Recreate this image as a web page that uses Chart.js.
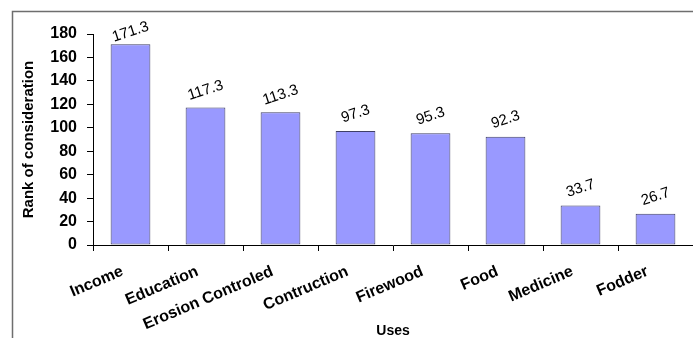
<!DOCTYPE html>
<html>
<head>
<meta charset="utf-8">
<script src="https://cdn.jsdelivr.net/npm/chart.js@4.4.1/dist/chart.umd.min.js"></script>
<style>
  body { margin: 0; background: #fff; }
  canvas { display: block; }
</style>
</head>
<body>
<canvas id="barChart" width="693" height="338"></canvas>
<script>
// data
var uses = ['Income', 'Education', 'Erosion Controled', 'Contruction', 'Firewood', 'Food', 'Medicine', 'Fodder'];
var rankValues = [171.3, 117.3, 113.3, 97.3, 95.3, 92.3, 33.7, 26.7];
var yMin = 0, yMax = 180, yStep = 20;

// outer frame + white bg
var framePlugin = {
    id: 'frame',
    beforeDraw: function (chart) {
        var ctx = chart.ctx;
        ctx.save();
        ctx.fillStyle = '#fff';
        ctx.fillRect(0, 0, chart.width, chart.height);
        ctx.strokeStyle = '#6e6e6e';
        ctx.lineWidth = 1.5;
        ctx.strokeRect(12.5, 11.5, 900, 500);
        ctx.restore();
    }
};

// rotated value labels above bars
var valueLabels = {
    id: 'valueLabels',
    afterDatasetsDraw: function (chart) {
        var ctx = chart.ctx;
        var meta = chart.getDatasetMeta(0);
        ctx.save();
        ctx.font = '15px "Liberation Sans", Arial, sans-serif';
        ctx.fillStyle = '#000';
        ctx.textAlign = 'center';
        ctx.textBaseline = 'middle';
        meta.data.forEach(function (bar, i) {
            var y = Math.max(bar.y - 17, 32);
            ctx.save();
            ctx.translate(bar.x, y);
            ctx.rotate(-18 * Math.PI / 180);
            ctx.fillText(rankValues[i].toFixed(1), 0, 0);
            ctx.restore();
        });
        ctx.restore();
    }
};

var ctx = document.getElementById('barChart').getContext('2d');
var chart = new Chart(ctx, {
    type: 'bar',
    data: {
        labels: uses,
        datasets: [{
            data: rankValues,
            backgroundColor: '#9999ff',
            borderColor: '#3f3f66',
            borderWidth: 1,
            borderSkipped: false,
            barPercentage: 0.53,
            categoryPercentage: 1
        }]
    },
    options: {
        responsive: false,
        animation: false,
        layout: { padding: { top: 34, right: 0, bottom: 0, left: 0 } },
        plugins: {
            legend: { display: false },
            tooltip: { enabled: false }
        },
        scales: {
            x: {
                grid: { drawOnChartArea: false, drawTicks: true, tickLength: 6, color: '#000' },
                border: { color: '#000', width: 1 },
                ticks: {
                    color: '#000',
                    minRotation: 23,
                    maxRotation: 23,
                    padding: 11,
                    labelOffset: -8,
                    font: { family: '"Liberation Sans", Arial, sans-serif', size: 16, weight: 'bold' }
                },
                title: {
                    display: true,
                    text: 'Uses',
                    color: '#000',
                    padding: 0,
                    font: { family: '"Liberation Sans", Arial, sans-serif', size: 14, weight: 'bold', lineHeight: 1 }
                },
                afterFit: function (scale) { scale.height = 93; }
            },
            y: {
                min: yMin,
                max: yMax,
                grid: { drawOnChartArea: false, drawTicks: true, tickLength: 6, color: '#000' },
                border: { color: '#000', width: 1 },
                ticks: {
                    stepSize: yStep,
                    color: '#000',
                    padding: 10,
                    font: { family: '"Liberation Sans", Arial, sans-serif', size: 16, weight: 'bold' }
                },
                title: {
                    display: true,
                    text: 'Rank of consideration',
                    color: '#000',
                    padding: { top: 20, bottom: 0 },
                    font: { family: '"Liberation Sans", Arial, sans-serif', size: 15, weight: 'bold' }
                },
                afterFit: function (scale) { scale.width = 93; }
            }
        }
    },
    plugins: [framePlugin, valueLabels]
});
</script>
</body>
</html>
